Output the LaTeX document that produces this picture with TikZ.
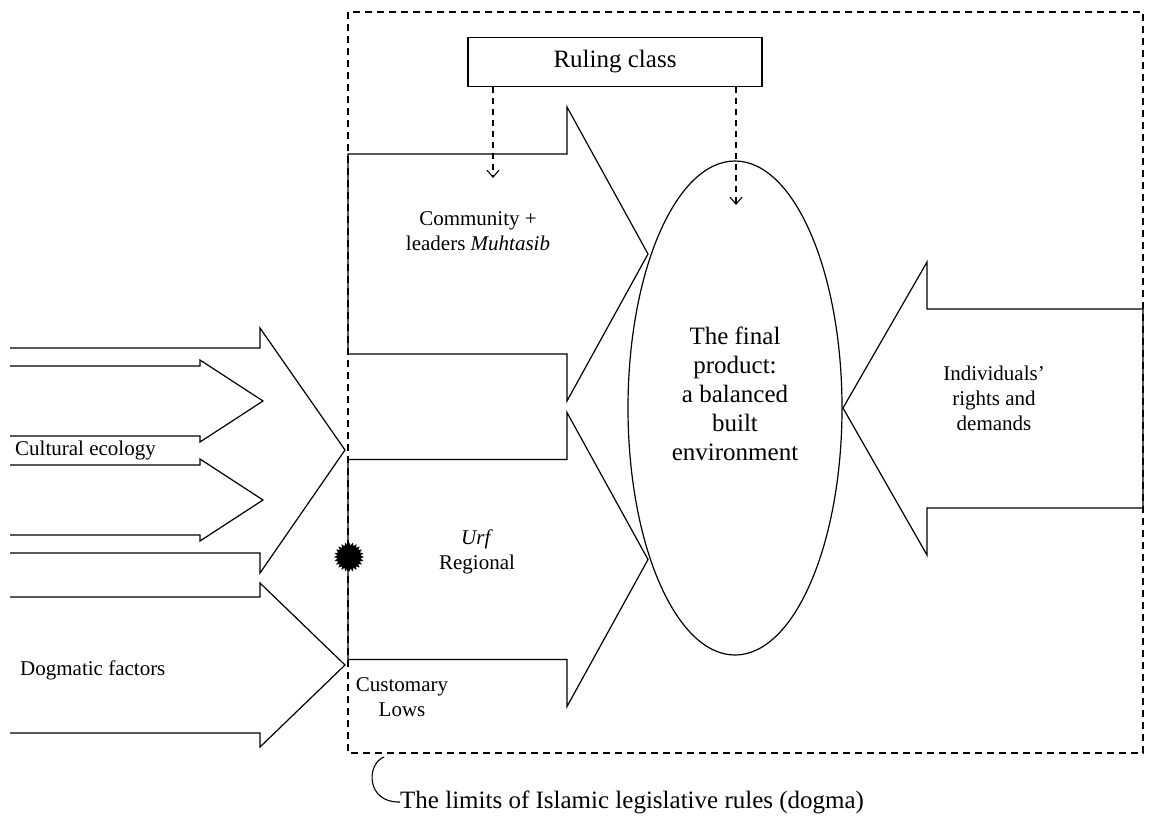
\documentclass[tikz,border=0pt]{standalone}
\usepackage{fontspec}
\setmainfont{Liberation Serif}
\usetikzlibrary{shapes.geometric,arrows.meta}

\tikzset{blockline/.style={draw,line width=1.2pt,line join=miter}}
\tikzstyle{limitline}=[line width=1.1pt,dash pattern=on 7pt off 5pt]
\tikzstyle{ruledash}=[line width=1.1pt,dash pattern=on 6pt off 5pt,-{Straight Barb[length=7pt,width=12pt]}]
\tikzstyle{smalltext}=[font=\fontsize{21}{25}\selectfont,align=center,inner sep=0pt]
\tikzstyle{bigtext}=[font=\fontsize{25}{29}\selectfont,align=center,inner sep=0pt]

\begin{document}
\begin{tikzpicture}[x=1pt,y=-1pt]
	\useasboundingbox (0,0) rectangle (1155,819);
	% limits of the legislative rules
	\draw[limitline] (348,12) rectangle (1143,753);
	% arrows coming from outside
	\draw[blockline] (10,348) -- (260,348) -- (260,328) -- (345,450) -- (260,573) -- (260,553) -- (10,553);
	\foreach \yc in {401,500}{
		\draw[blockline] (10,\yc-35) -- (200,\yc-35) -- (200,\yc-41) -- (263,\yc) -- (200,\yc+41) -- (200,\yc+35) -- (10,\yc+35);
	}
	\draw[blockline] (10,597) -- (260,597) -- (260,583) -- (345,665) -- (260,747) -- (260,733) -- (10,733);
	% arrows inside the limits
	\foreach \yc in {254,559.5}{
		\draw[blockline] (348,\yc-100) -- (567,\yc-100) -- (567,\yc-147) -- (648,\yc) -- (567,\yc+147) -- (567,\yc+100) -- (348,\yc+100) -- cycle;
	}
	\draw[blockline] (1143,309) -- (927,309) -- (927,262) -- (843,408) -- (927,555) -- (927,508) -- (1143,508) -- cycle;
	% product and ruling class
	\node (prod) [ellipse,draw,line width=1.2pt,minimum width=214pt,minimum height=494pt] at (735,408) {};
	\node (prodtext) [bigtext] at ([yshift=14pt]prod.center) {The final\\product:\\a balanced\\built\\environment};
	\node (rule) [draw,line width=1.2pt,minimum width=294pt,minimum height=49pt,bigtext] at (615,62) {Ruling class};
	\coordinate (rA) at (493,178);
	\coordinate (rB) at (736,205);
	\draw[ruledash] (rule.south -| rA) -- (rA);
	\draw[ruledash] (rule.south -| rB) -- (rB);
	\node (seal) [star,star points=24,star point ratio=1.3,fill=black,minimum size=30pt,inner sep=0pt] at (349,557) {};
	% labels
	\node (cult) [smalltext,anchor=west] at (15,450) {Cultural ecology};
	\node (dogm) [smalltext,anchor=west] at (20,670) {Dogmatic factors};
	\node (comm) [smalltext] at (478,231) {Community +\\leaders \textit{Muhtasib}};
	\node (urf) [smalltext] at (477,552) {\textit{Urf}\\Regional};
	\node (cust) [smalltext] at (402,697) {Customary\\Lows};
	\node (indiv) [smalltext] at (994,398) {Individuals'\\rights and\\demands};
	\node (limits) [bigtext,anchor=west] at (400,802) {The limits of Islamic legislative rules (dogma)};
	\coordinate (brk) at (384,757);
	\draw[line width=1.1pt] (brk) .. controls (366,764) and (366,803) .. (limits.west);
\end{tikzpicture}
\end{document}
